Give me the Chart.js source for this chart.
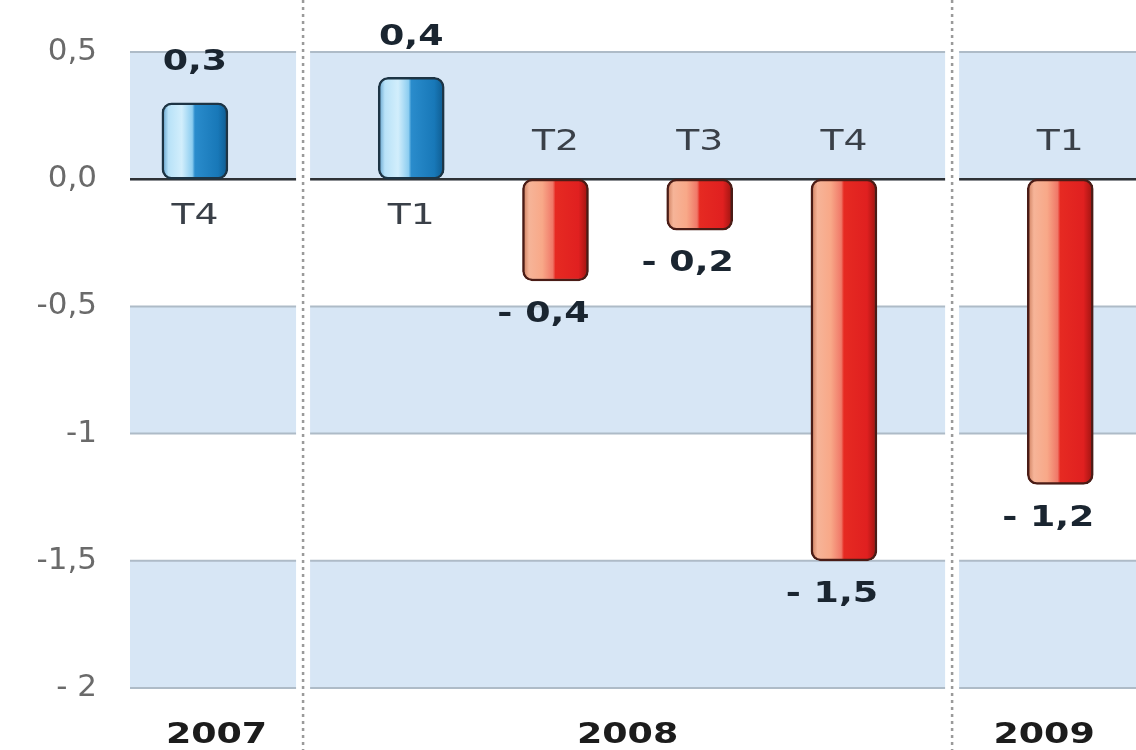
<!DOCTYPE html>
<html>
<head>
<meta charset="utf-8">
<script src="https://cdn.jsdelivr.net/npm/chart.js@4.4.1/dist/chart.umd.min.js"></script>
<style>
    html, body { margin: 0; padding: 0; background: #fff; }
    #wrap { width: 1136px; height: 750px; }
</style>
</head>
<body>
<div id="wrap"><canvas id="gdp_chart"></canvas></div>
<script>
const quarters = ['T4', 'T1', 'T2', 'T3', 'T4', 'T1']
const years = ['2007', '2008', '2008', '2008', '2008', '2009']
const values = [0.3, 0.4, -0.4, -0.2, -1.5, -1.2]
const valueLabels = ['0,3', '0,4', '- 0,4', '- 0,2', '- 1,5', '- 1,2']
const yTicks = [0.5, 0, -0.5, -1, -1.5, -2]
const yTickLabels = ['0,5', '0,0', '-0,5', '-1', '-1,5', '- 2']

// slot of each bar on the x axis: 2 slots between quarters, 3 when the year changes
const slots = []
values.forEach((v, i) => {
    if (i === 0) slots.push(0)
    else slots.push(slots[i - 1] + (years[i] === years[i - 1] ? 2 : 3))
})

const BAR_W = 66
const STRETCH = 1.3 // the source picture is stretched sideways

const blueStops = [[0, '#5a9cc8'], [0.1, '#b8e2f8'], [0.3, '#d2eefc'], [0.46, '#8ccdf0'], [0.5, '#2a8ccc'], [0.85, '#1878b8'], [1, '#0e5a8e']]
const redStops = [[0, '#c87858'], [0.1, '#f6b498'], [0.3, '#f8a888'], [0.46, '#f07868'], [0.5, '#e62a22'], [0.85, '#e02020'], [1, '#9a1410']]

function wideText(ctx, text, x, y, font, color) {
    ctx.save()
    ctx.font = font
    ctx.fillStyle = color
    ctx.textAlign = 'center'
    ctx.textBaseline = 'middle'
    ctx.translate(x, y)
    ctx.scale(STRETCH, 1)
    ctx.fillText(text, 0, 0)
    ctx.restore()
}

function separators(chart) {
    const x = chart.scales.x
    const seps = []
    for (let i = 1; i < years.length; i++) {
        if (years[i] !== years[i - 1]) {
            seps.push((x.getPixelForValue(slots[i - 1]) + x.getPixelForValue(slots[i])) / 2)
        }
    }
    return seps
}

const decorPlugin = {
    id: 'decor',
    beforeDatasetsDraw(chart) {
        const { ctx, chartArea, scales: { y } } = chart
        const w = chartArea.right - chartArea.left
        ctx.save()
        // light blue bands every other half unit
        for (let i = 0; i < yTicks.length - 1; i += 2) {
            const top = y.getPixelForValue(yTicks[i])
            const bot = y.getPixelForValue(yTicks[i + 1])
            ctx.fillStyle = '#d7e6f5'
            ctx.fillRect(chartArea.left, top, w, bot - top)
            ctx.strokeStyle = '#aebbc7'
            ctx.lineWidth = 2
            ctx.beginPath()
            ctx.moveTo(chartArea.left, top); ctx.lineTo(chartArea.right, top)
            ctx.moveTo(chartArea.left, bot); ctx.lineTo(chartArea.right, bot)
            ctx.stroke()
        }
        // zero line
        const zy = y.getPixelForValue(0)
        ctx.strokeStyle = '#2e3236'
        ctx.lineWidth = 2.5
        ctx.beginPath()
        ctx.moveTo(chartArea.left, zy)
        ctx.lineTo(chartArea.right, zy)
        ctx.stroke()
        // year separators
        separators(chart).forEach(sx => {
            ctx.fillStyle = '#ffffff'
            ctx.fillRect(sx - 7, chartArea.top - 2, 14, chartArea.bottom - chartArea.top + 4)
            ctx.strokeStyle = '#9a9a9a'
            ctx.lineWidth = 2.5
            ctx.setLineDash([3, 4])
            ctx.beginPath()
            ctx.moveTo(sx, 0)
            ctx.lineTo(sx, chart.height)
            ctx.stroke()
            ctx.setLineDash([])
        })
        ctx.restore()
    },
    afterDatasetsDraw(chart) {
        const { ctx, chartArea, scales: { y } } = chart
        const zy = y.getPixelForValue(0)
        const meta = chart.getDatasetMeta(0)
        meta.data.forEach((el, i) => {
            if (values[i] >= 0) {
                wideText(ctx, valueLabels[i], el.x, el.y - 40, 'bold 28px "DejaVu Sans"', '#1a2530')
                wideText(ctx, quarters[i], el.x, zy + 37, '29px "DejaVu Sans"', '#3a4048')
            } else {
                wideText(ctx, quarters[i], el.x, zy - 37, '29px "DejaVu Sans"', '#3a4048')
                wideText(ctx, valueLabels[i], el.x - 12, el.y + 34, 'bold 28px "DejaVu Sans"', '#1a2530')
            }
        })
        // year names centred in their sections
        const edges = [chartArea.left, ...separators(chart), chartArea.right]
        const yearNames = years.filter((yr, i) => i === 0 || yr !== years[i - 1])
        yearNames.forEach((yr, i) => {
            wideText(ctx, yr, (edges[i] + edges[i + 1]) / 2, 736, 'bold 28px "DejaVu Sans"', '#1c1c1c')
        })
    }
}

const ctx = document.getElementById('gdp_chart').getContext('2d')
new Chart(ctx, {
    type: 'bar',
    data: {
        datasets: [{
            data: slots.map((s, i) => ({ x: s, y: values[i] })),
            barThickness: BAR_W,
            backgroundColor(c) {
                const chart = c.chart
                if (!chart.chartArea || c.dataIndex === undefined) return '#888'
                const cx = chart.scales.x.getPixelForValue(slots[c.dataIndex])
                const g = chart.ctx.createLinearGradient(cx - BAR_W / 2, 0, cx + BAR_W / 2, 0)
                const stops = values[c.dataIndex] >= 0 ? blueStops : redStops
                stops.forEach(([o, col]) => g.addColorStop(o, col))
                return g
            },
            borderColor: values.map(v => v >= 0 ? '#1d3444' : '#4a1c16'),
            borderWidth: 2.5,
            borderRadius: 10,
            borderSkipped: false
        }]
    },
    options: {
        responsive: true,
        maintainAspectRatio: false,
        animation: false,
        layout: { padding: { top: 52, bottom: 62, left: 0, right: 0 } },
        plugins: {
            legend: { display: false },
            tooltip: { enabled: false }
        },
        scales: {
            x: {
                type: 'linear',
                display: false,
                offset: false,
                min: -0.9,
                max: 13.05
            },
            y: {
                min: -2,
                max: 0.5,
                grid: { display: false, drawTicks: false },
                border: { display: false },
                afterBuildTicks(scale) {
                    scale.ticks = yTicks.map(v => ({ value: v }))
                },
                afterFit(scale) {
                    scale.width = 130
                },
                ticks: {
                    padding: 33,
                    color: '#6a6a6a',
                    font: { family: 'DejaVu Sans', size: 31 },
                    callback: v => yTickLabels[yTicks.indexOf(v)]
                }
            }
        }
    },
    plugins: [decorPlugin]
})
</script>
</body>
</html>
